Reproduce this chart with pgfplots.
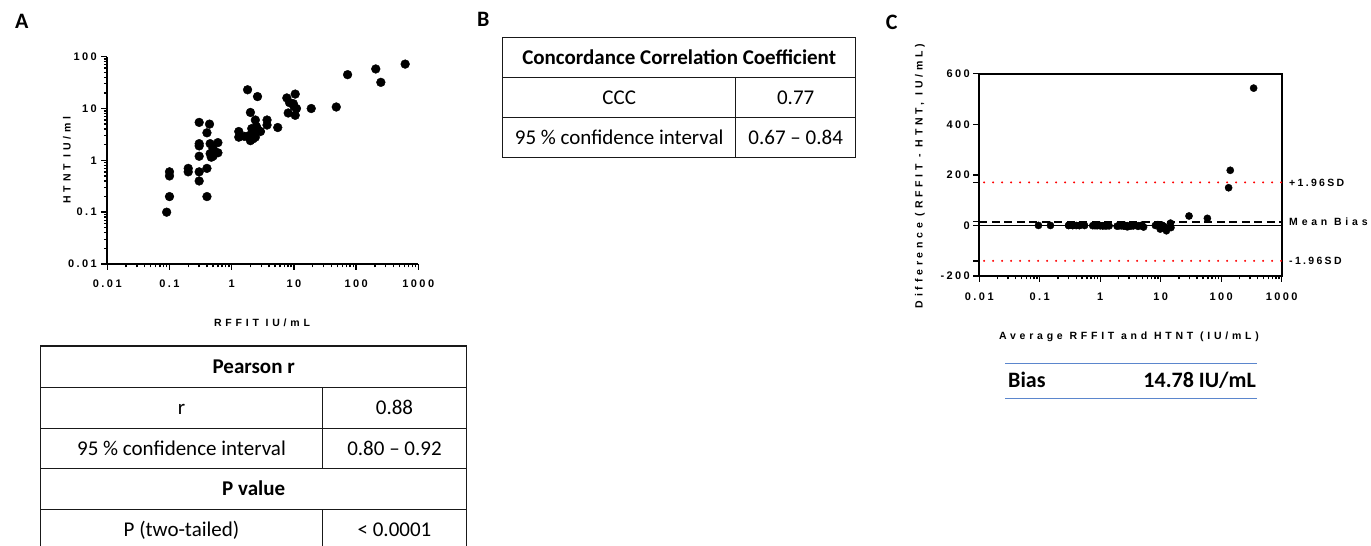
\documentclass[border=0pt]{standalone}
\usepackage{fontspec}
\setmainfont{Carlito}
\newfontfamily\gp{Liberation Sans}[LetterSpace=22]
\newfontfamily\gpw{Liberation Sans}[LetterSpace=36]
\usepackage{pgfplots}
\pgfplotsset{compat=1.18}
\definecolor{biasblue}{RGB}{91,134,205}
\begin{document}
\begin{tikzpicture}
\useasboundingbox (0pt,0pt) rectangle (1371pt,546pt);
\pgfplotsset{gpstyle/.style={
  scale only axis,
  axis line style={-, line width=1.8pt},
  tick style={line width=1.4pt, black},
  tick align=outside,
  major tick length=6pt, minor tick length=3.5pt,
  tick label style={font=\gp\bfseries\fontsize{11}{13}\selectfont},
  /pgf/number format/assume math mode=true,
}}
% ---------------- Panel A ----------------
\begin{axis}[gpstyle, xmode=log, ymode=log,
  at={(107.3pt,282pt)}, anchor=south west, width=311pt, height=207.3pt,
  xmin=0.01, xmax=1000, ymin=0.01, ymax=100,
  axis x line*=bottom, axis y line*=left,
  xticklabel style={yshift=-6pt}, yticklabel style={xshift=-1pt},
  xtick={0.01,0.1,1,10,100,1000}, xticklabels={0.01,0.1,1,10,100,1000},
  ytick={0.01,0.1,1,10,100}, yticklabels={0.01,0.1,1,10,100},
  minor xtick={0.02,0.03,0.04,0.05,0.06,0.07,0.08,0.09,0.2,0.3,0.4,0.5,0.6,0.7,0.8,0.9,2,3,4,5,6,7,8,9,20,30,40,50,60,70,80,90,200,300,400,500,600,700,800,900},
  minor ytick={0.02,0.03,0.04,0.05,0.06,0.07,0.08,0.09,0.2,0.3,0.4,0.5,0.6,0.7,0.8,0.9,2,3,4,5,6,7,8,9,20,30,40,50,60,70,80,90},
  clip=false]
\addplot[only marks, mark=*, mark size=4.4pt, black] table {
x y
0.09 0.1
0.1 0.2
0.1 0.5
0.1 0.6
0.2 0.6
0.2 0.7
0.3 0.4
0.3 0.6
0.3 1.2
0.3 1.9
0.3 2.1
0.3 5.4
0.4 0.2
0.4 0.7
0.4 3.4
0.44 5.0
0.45 2.1
0.45 1.35
0.5 1.7
0.5 1.2
0.6 2.2
0.6 1.4
0.47 1.15
0.5 1.5
1.8 23
2.6 17
2.0 8.4
2.4 6.0
3.7 6.0
3.7 4.8
5.5 4.3
1.3 3.6
1.3 2.8
1.9 3.0
2.2 3.4
2.7 3.8
2.0 2.4
2.4 2.8
2.9 3.6
2.1 4.1
2.2 2.6
1.6 2.9
2.5 4.5
7.7 16
10.5 19
8.1 8.2
10.5 7.4
11 10
9.8 12.4
8.5 13
19 10
48 10.7
73 45
207 58
250 32
615 72
10 11
};
\end{axis}
% ---------------- Panel C ----------------
\begin{axis}[gpstyle, xmode=log,
  at={(979.3pt,270pt)}, anchor=south west, width=302.4pt, height=202.3pt,
  xmin=0.01, xmax=1000, ymin=-200, ymax=600,
  tick pos=left,
  xticklabel style={yshift=-7pt},
  xtick={0.01,0.1,1,10,100,1000}, xticklabels={0.01,0.1,1,10,100,1000},
  ytick={-200,0,200,400,600}, yticklabels={-200,0,200,400,600},
  extra y ticks={-140,14.78,170}, extra y tick labels={},
  minor xtick={0.02,0.03,0.04,0.05,0.06,0.07,0.08,0.09,0.2,0.3,0.4,0.5,0.6,0.7,0.8,0.9,2,3,4,5,6,7,8,9,20,30,40,50,60,70,80,90,200,300,400,500,600,700,800,900},
  clip=false]
\addplot[black, line width=1.3pt] coordinates {(0.01,0) (1000,0)};
\addplot[black, line width=2.2pt, dash pattern=on 8pt off 4.5pt] coordinates {(0.01,14.78) (1000,14.78)};
\addplot[red, line width=2.2pt, line cap=round, dash pattern=on 0pt off 9pt] coordinates {(0.012,170) (1000,170)};
\addplot[red, line width=2.2pt, line cap=round, dash pattern=on 0pt off 9pt] coordinates {(0.012,-140) (1000,-140)};
\addplot[only marks, mark=*, mark size=3.6pt, black] table {
x y
0.095 -0.01
0.15 -0.1
0.3 -0.4
0.35 -0.5
0.4 -0.4
0.45 -0.5
0.35 -0.1
0.45 -0.3
0.75 -0.9
1.1 -1.6
1.2 -1.8
2.85 -5.1
0.3 0.2
0.55 -0.3
1.9 -3.0
2.72 -4.56
1.28 -1.65
0.9 -0.9
1.1 -1.2
0.85 -0.7
1.4 -1.6
1.0 -0.8
0.81 -0.68
1.0 -1.0
12.4 -21.2
9.8 -14.4
5.2 -6.4
4.2 -3.6
4.85 -2.3
4.25 -1.1
4.9 1.2
2.45 -2.3
2.05 -1.5
2.45 -1.1
2.8 -1.2
3.25 -1.1
2.2 -0.4
2.6 -0.4
3.25 -0.7
3.1 -2.0
2.4 -0.4
2.25 -1.3
3.5 -2.0
11.85 -8.3
14.75 -8.5
8.15 -0.1
8.95 3.1
10.5 1.0
11.1 -2.6
10.75 -4.5
14.5 9
29.35 37.3
59 28
132.5 149
141 218
343.5 543
10.5 -1
};
\node[anchor=west, font=\gp\bfseries\fontsize{10.5}{12}\selectfont, xshift=4pt] at (axis cs:1000,170) {+1.96SD};
\node[anchor=west, font=\gpw\bfseries\fontsize{10.5}{12}\selectfont, xshift=4pt] at (axis cs:1000,16) {Mean Bias};
\node[anchor=west, font=\gp\bfseries\fontsize{10.5}{12}\selectfont, xshift=4pt] at (axis cs:1000,-142) {-1.96SD};
\end{axis}
\begin{scope}[x=1pt,y=1pt]
\node[font=\gpw\bfseries\fontsize{10.5}{12}\selectfont] at (262,223.3) {RFFIT IU/mL};
\node[rotate=90, font=\gpw\bfseries\fontsize{10.5}{12}\selectfont] at (67,386) {HTNT IU/ml};
\node[font=\gpw\bfseries\fontsize{10.5}{12}\selectfont] at (1129,209.3) {Average RFFIT and HTNT (IU/mL)};
\node[rotate=90, font=\gpw\bfseries\fontsize{10.5}{12}\selectfont] at (920,370) {Difference (RFFIT - HTNT, IU/mL)};
% ---------------- Panel letters ----------------
\node[font=\bfseries\fontsize{22}{26}\selectfont] at (21.7,524.3) {A};
\node[font=\bfseries\fontsize{22}{26}\selectfont] at (483.3,527) {B};
\node[font=\bfseries\fontsize{22}{26}\selectfont] at (891.7,523.3) {C};
% ---------------- Tables ----------------
\begin{scope}[line width=1.3pt, draw=black!90, every node/.style={anchor=base, font=\fontsize{21}{25}\selectfont, inner sep=0pt}]
\draw (40.7,200) rectangle (466.7,-4);
\draw (40.7,158.7) -- (466.7,158.7);
\draw (40.7,117.7) -- (466.7,117.7);
\draw (40.7,77.7) -- (466.7,77.7);
\draw (40.7,36.7) -- (466.7,36.7);
\draw (322.3,158.7) -- (322.3,77.7);
\draw (322.3,36.7) -- (322.3,-4);
\node[font=\bfseries\fontsize{21}{25}\selectfont] at (253.7,172.5) {Pearson r};
\node at (181.5,131.4) {r};
\node at (394.5,131.4) {0.88};
\node at (181.5,90.9) {95 \% confidence interval};
\node at (394.5,90.9) {0.80 – 0.92};
\node[font=\bfseries\fontsize{21}{25}\selectfont] at (253.7,50.4) {P value};
\node at (181.5,9.7) {P (two-tailed)};
\node at (394.5,9.7) {< 0.0001};
\draw (502.7,508.7) rectangle (855.7,388.7);
\draw (502.7,468.7) -- (855.7,468.7);
\draw (502.7,428.7) -- (855.7,428.7);
\draw (735.7,468.7) -- (735.7,388.7);
\node[font=\bfseries\fontsize{21}{25}\selectfont] at (679.2,481.9) {Concordance Correlation Coefficient};
\node at (619.2,441.9) {CCC};
\node at (795.7,441.9) {0.77};
\node at (619.2,401.9) {95 \% confidence interval};
\node at (795.7,401.9) {0.67 – 0.84};
\end{scope}
% ---------------- Bias ----------------
\draw[biasblue, line width=1.5pt] (1005,182.7) -- (1257,182.7);
\draw[biasblue, line width=1.5pt] (1005,147.7) -- (1257,147.7);
\node[anchor=base west, inner sep=0pt, font=\bfseries\fontsize{22}{26}\selectfont] at (1008,158.2) {Bias};
\node[anchor=base east, inner sep=0pt, font=\bfseries\fontsize{22}{26}\selectfont] at (1256,158.2) {14.78 IU/mL};
\end{scope}
\end{tikzpicture}
\end{document}
